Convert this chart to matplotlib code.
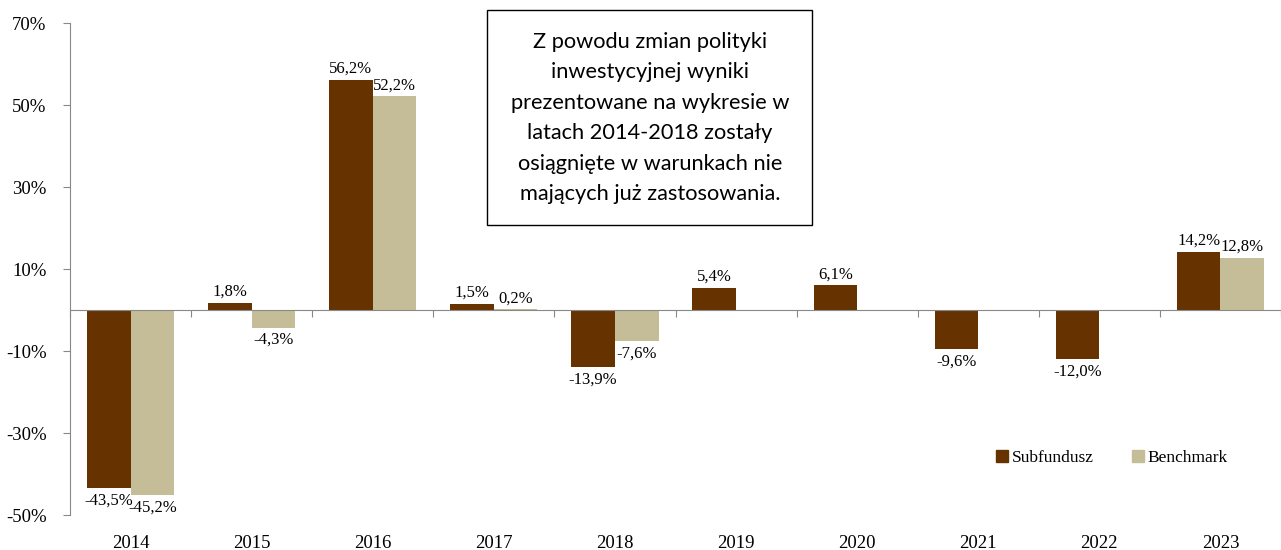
import numpy as np
import matplotlib.pyplot as plt
from matplotlib.patches import Rectangle
from matplotlib.transforms import blended_transform_factory

years = ["2014", "2015", "2016", "2017", "2018", "2019", "2020", "2021", "2022", "2023"]
subfundusz = [-43.5, 1.8, 56.2, 1.5, -13.9, 5.4, 6.1, -9.6, -12.0, 14.2]
benchmark = [-45.2, -4.3, 52.2, 0.2, -7.6, None, None, None, None, 12.8]
y_ticks = [-50, -30, -10, 10, 30, 50, 70]

c_sub = "#663300"
c_bench = "#C4BD97"
serif = "Liberation Serif"

fig = plt.figure(figsize=(12.81, 5.5), dpi=100)
ax = fig.add_axes([70 / 1281, 35 / 550, 1211 / 1281, 492 / 550])

x = np.arange(len(years))
w = 0.36

def fmt(v):
    return f"{v:.1f}".replace(".", ",") + "%"

for i, v in enumerate(subfundusz):
    ax.bar(x[i] - w / 2, v, w, color=c_sub)
for i, v in enumerate(benchmark):
    if v is not None:
        ax.bar(x[i] + w / 2, v, w, color=c_bench)

# value labels above positive bars, below negative ones
for series, off in ((subfundusz, -w / 2), (benchmark, w / 2)):
    for i, v in enumerate(series):
        if v is None:
            continue
        if v >= 0:
            ax.annotate(fmt(v), (x[i] + off, v), xytext=(0, 2), textcoords="offset points",
                        ha="center", va="bottom", fontsize=12, family=serif)
        else:
            ax.annotate(fmt(v), (x[i] + off, v), xytext=(0, -3), textcoords="offset points",
                        ha="center", va="top", fontsize=12, family=serif)

ax.set_xlim(-0.5, len(years) - 0.5)
ax.set_ylim(-50, 70)
ax.set_yticks(y_ticks)
ax.set_yticklabels([f"{t}%" for t in y_ticks], fontsize=13.5, family=serif)
ax.tick_params(axis="y", length=5, color="#888888", pad=12)

for s in ("top", "right"):
    ax.spines[s].set_visible(False)
ax.spines["left"].set_color("#888888")
ax.spines["bottom"].set_color("#888888")
ax.spines["bottom"].set_position(("data", 0))

# category separators on the zero line, year labels along the bottom
ax.set_xticks(np.arange(len(years) + 1) - 0.5)
ax.set_xticklabels([])
ax.tick_params(axis="x", length=5, color="#888888", direction="out")
trans = blended_transform_factory(ax.transData, ax.transAxes)
for i, yr in enumerate(years):
    ax.text(x[i], -0.04, yr, transform=trans, ha="center", va="top", fontsize=13.5, family=serif)

leg_handles = [plt.Rectangle((0, 0), 1, 1, color=c_sub), plt.Rectangle((0, 0), 1, 1, color=c_bench)]
ax.legend(leg_handles, ["Subfundusz", "Benchmark"], loc="center", bbox_to_anchor=(1112 / 1281, 1 - 458 / 550),
          bbox_transform=fig.transFigure, ncol=2, frameon=False, handlelength=0.7, handleheight=0.7,
          handletextpad=0.2, columnspacing=2.2, prop={"family": serif, "size": 12.5})

# note box
fig.patches.append(Rectangle((487 / 1281, 1 - 225 / 550), 325 / 1281, 215 / 550, transform=fig.transFigure,
                             fc="white", ec="black", lw=1, zorder=5))
note = ("Z powodu zmian polityki\ninwestycyjnej wyniki\nprezentowane na wykresie w\n"
        "latach 2014-2018 zostały\nosiągnięte w warunkach nie\nmających już zastosowania.")
fig.text(650 / 1281, 1 - 118 / 550, note, ha="center", va="center", fontsize=15.7, family="Lato",
         linespacing=1.66, zorder=6)

fig.savefig("out.png", dpi=100)
